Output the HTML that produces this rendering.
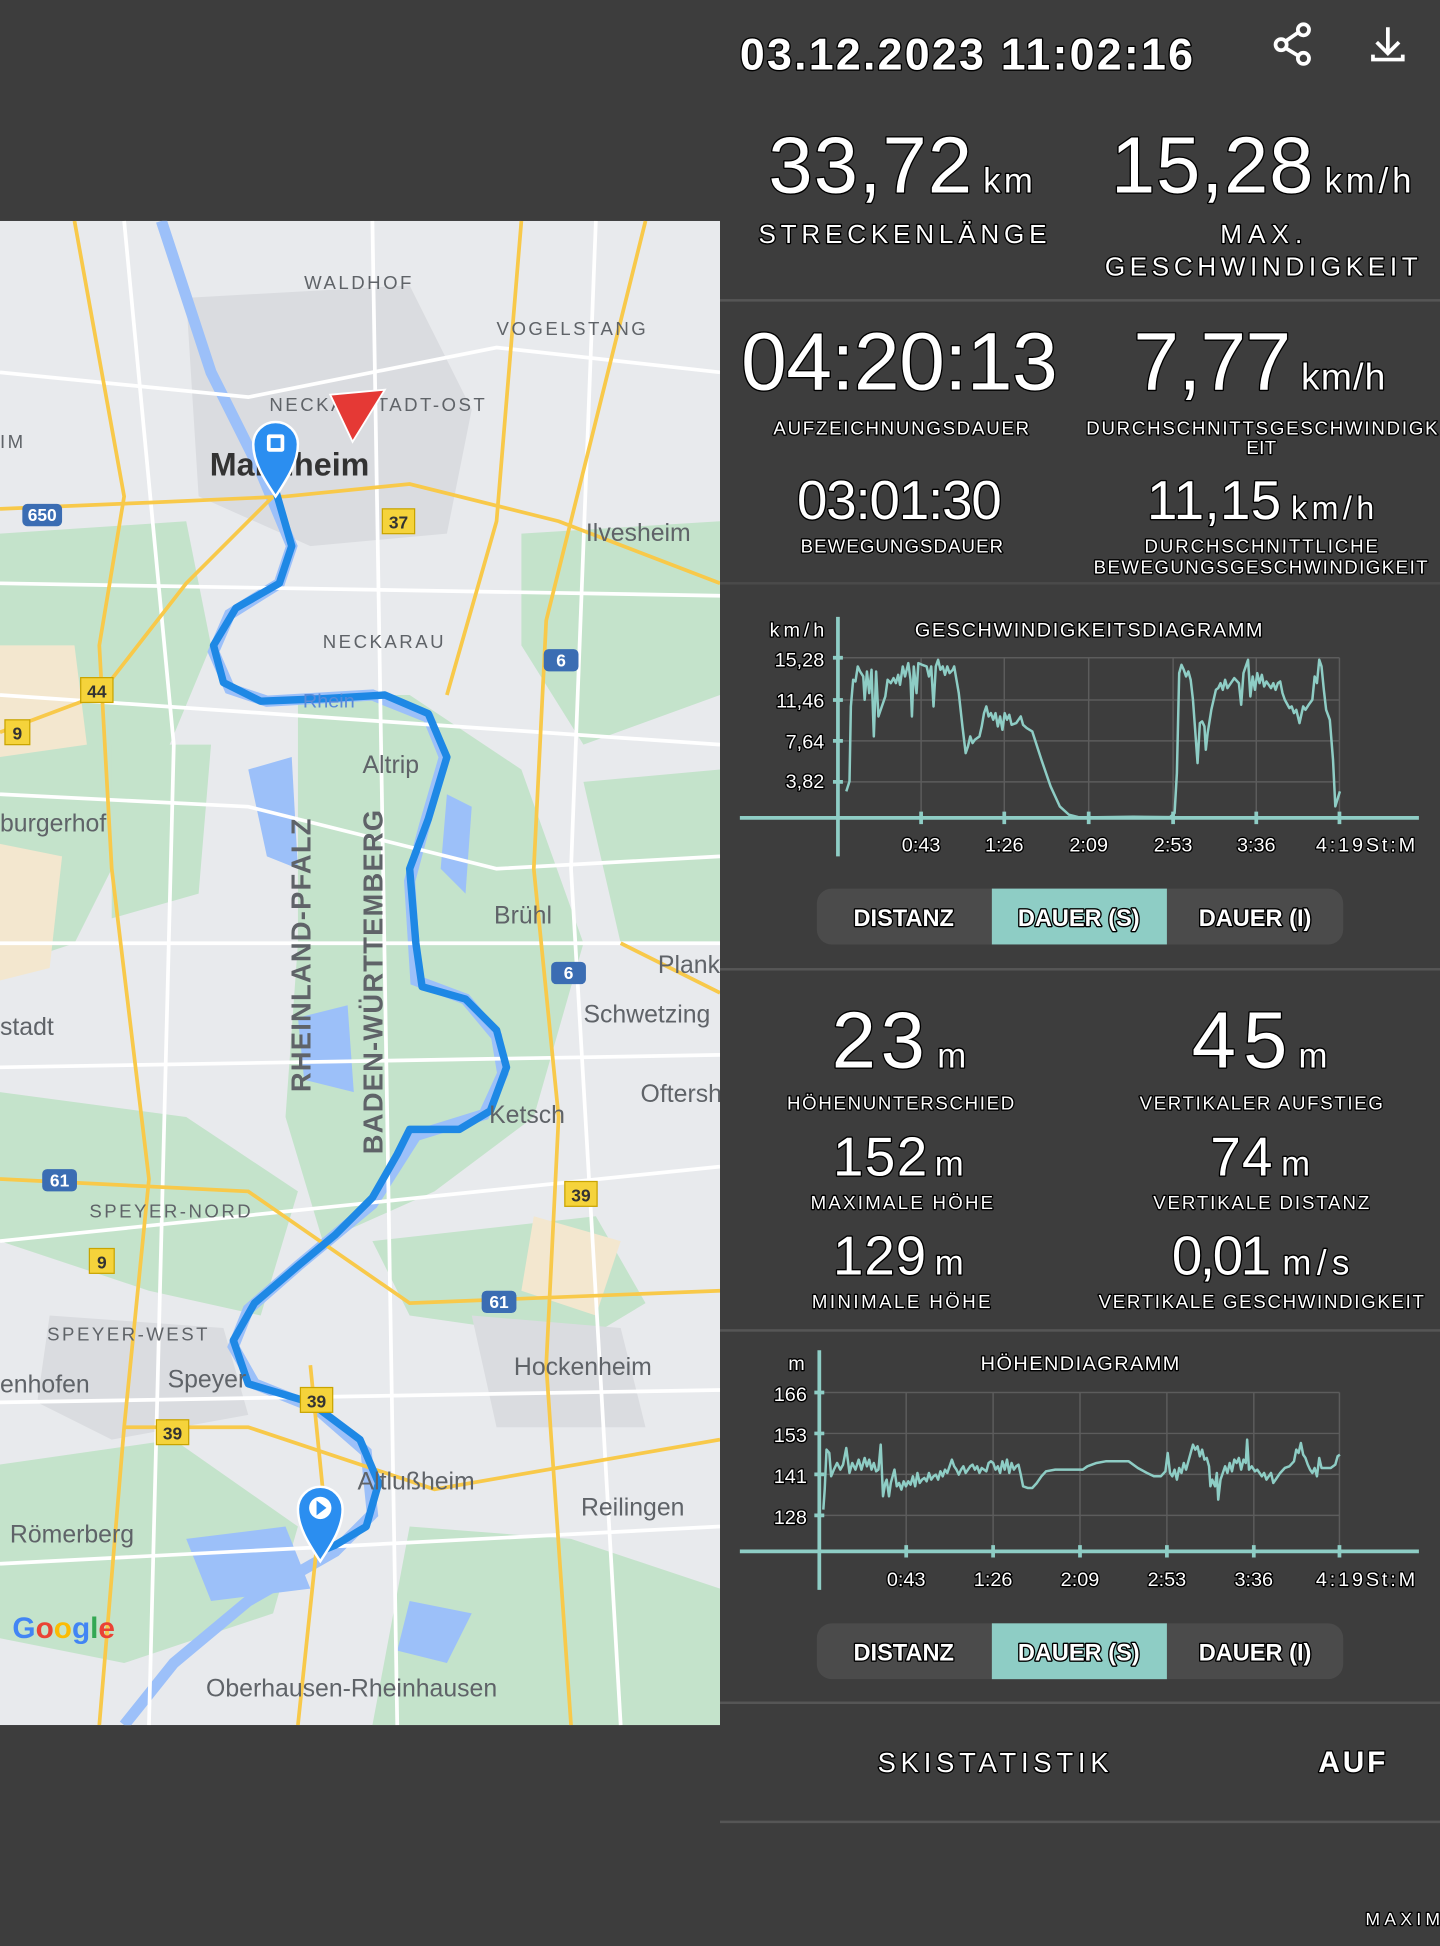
<!DOCTYPE html>
<html><head><meta charset="utf-8">
<style>
html,body{margin:0;padding:0;background:#3d3d3d;}
svg{display:block;}
.t{font-family:"Liberation Sans",sans-serif;fill:#fff;}
.o{stroke:#000;stroke-width:2.2;paint-order:stroke;stroke-linejoin:round;}
.m{font-family:"Liberation Sans",sans-serif;fill:#5f6368;}
</style></head><body>
<svg width="1440" height="1946" viewBox="0 0 1160 1568" preserveAspectRatio="none" xmlns="http://www.w3.org/2000/svg">
<rect width="1160" height="1568" fill="#3d3d3d"/>

<!-- MAP -->
<svg x="0" y="178" width="580" height="1212" viewBox="0 178 580 1212">
<rect x="0" y="178" width="580" height="1212" fill="#e8eaed"/>
<g fill="#c4e3cb">
<path d="M0 430 L150 420 L170 520 L120 640 L60 760 L0 780Z"/>
<path d="M240 560 L330 560 L420 620 L470 760 L430 900 L350 960 L260 1000 L230 900 L240 760Z"/>
<path d="M420 430 L580 420 L580 560 L470 600 L420 520Z"/>
<path d="M0 880 L150 900 L240 960 L210 1060 L120 1040 L0 1000Z"/>
<path d="M300 1000 L480 980 L520 1050 L470 1080 L330 1060Z"/>
<path d="M0 1180 L140 1160 L240 1230 L220 1300 L100 1340 L0 1320Z"/>
<path d="M330 1230 L460 1240 L580 1280 L580 1390 L300 1390Z"/>
<path d="M470 630 L580 620 L580 760 L500 760Z"/>
<path d="M90 600 L170 600 L160 720 L90 740Z"/>
</g>
<g fill="#f3e7cf">
<path d="M0 520 L60 520 L70 600 L0 610Z"/>
<path d="M0 680 L50 690 L40 780 L0 790Z"/>
<path d="M430 980 L500 1000 L480 1060 L420 1040Z"/>
</g>
<g fill="#dadce0">
<path d="M150 240 L330 230 L380 330 L360 430 L250 440 L160 400Z"/>
<path d="M40 1060 L180 1070 L200 1140 L90 1160 L30 1130Z"/>
<path d="M380 1060 L500 1070 L520 1150 L400 1150Z"/>
</g>
<g fill="#9cc0f9">
<path d="M200 620 L235 610 L240 700 L215 690Z"/>
<path d="M240 820 L280 810 L285 880 L245 870Z"/>
<path d="M150 1240 L230 1230 L250 1280 L170 1290Z"/>
<path d="M330 1290 L380 1300 L360 1340 L320 1330Z"/>
<path d="M360 640 L380 650 L375 720 L355 700Z"/>
</g>
<!-- river -->
<path d="M130 178 L170 300 L210 380 L235 440 L225 470 L185 495 L172 525 L185 555 L215 565 L300 560 L345 578 L358 610 L342 665 L330 710 L335 790 L375 805 L400 835 L405 865 L390 898 L335 915 L300 970 L240 1020 L200 1055 L188 1085 L205 1115 L255 1135 L295 1170 L300 1220 L270 1250 L200 1290 L140 1340 L100 1390" fill="none" stroke="#9cc0f9" stroke-width="9"/>
<!-- roads white -->
<g fill="none" stroke="#fff" stroke-width="3">
<path d="M0 300 L200 320 L400 280 L580 300"/><path d="M0 470 L580 480"/><path d="M0 640 L200 650 L400 700 L580 690"/>
<path d="M0 860 L580 850"/><path d="M0 1130 L580 1120"/><path d="M100 178 L140 600 L120 1390"/>
<path d="M480 178 L460 700 L500 1390"/><path d="M300 178 L320 1390"/><path d="M0 1000 L580 940"/>
<path d="M0 560 L580 600"/><path d="M0 760 L580 760"/><path d="M0 1260 L580 1230"/>
</g>
<!-- roads yellow -->
<g fill="none" stroke="#f8c94a" stroke-width="3">
<path d="M0 410 L120 405 L230 400 L330 390 L450 420 L580 470"/>
<path d="M60 178 L100 400 L80 520 L90 700 L120 950 L100 1150 L80 1390"/>
<path d="M520 178 L440 500 L430 700 L450 900 L440 1100 L460 1390"/>
<path d="M0 590 L80 560 L150 470 L220 400"/>
<path d="M0 950 L200 960 L330 1050 L580 1040"/>
<path d="M250 1100 L260 1200 L240 1390"/>
<path d="M420 178 L400 420 L360 560"/>
<path d="M500 760 L560 790 L580 800"/>
<path d="M100 1150 L200 1150 L350 1200 L580 1160"/>
</g>
<!-- route -->
<path d="M222 395 L235 440 L225 470 L190 490 L172 520 L180 550 L210 565 L260 563 L310 560 L345 575 L360 610 L345 660 L330 700 L335 760 L340 795 L375 805 L400 830 L408 860 L395 895 L370 910 L330 910 L320 930 L300 965 L270 995 L240 1020 L205 1050 L188 1080 L200 1115 L250 1130 L290 1160 L305 1195 L295 1230 L270 1245 L258 1250" fill="none" stroke="#1e88e5" stroke-width="6" stroke-linejoin="round"/>
<!-- shields -->
<g font-family="Liberation Sans" font-size="14" font-weight="bold" text-anchor="middle">
<rect x="308" y="410" width="26" height="20" fill="#f5d33b" stroke="#c9a400"/><text x="321" y="426" fill="#333">37</text>
<rect x="65" y="546" width="26" height="20" fill="#f5d33b" stroke="#c9a400"/><text x="78" y="562" fill="#333">44</text>
<rect x="4" y="580" width="20" height="20" fill="#f5d33b" stroke="#c9a400"/><text x="14" y="596" fill="#333">9</text>
<rect x="455" y="952" width="26" height="20" fill="#f5d33b" stroke="#c9a400"/><text x="468" y="968" fill="#333">39</text>
<rect x="72" y="1006" width="20" height="20" fill="#f5d33b" stroke="#c9a400"/><text x="82" y="1022" fill="#333">9</text>
<rect x="242" y="1118" width="26" height="20" fill="#f5d33b" stroke="#c9a400"/><text x="255" y="1134" fill="#333">39</text>
<rect x="126" y="1144" width="26" height="20" fill="#f5d33b" stroke="#c9a400"/><text x="139" y="1160" fill="#333">39</text>
<rect x="18" y="406" width="32" height="18" rx="4" fill="#3b6db3"/><text x="34" y="420" fill="#fff">650</text>
<rect x="438" y="523" width="28" height="18" rx="4" fill="#3b6db3"/><text x="452" y="537" fill="#fff">6</text>
<rect x="444" y="775" width="28" height="18" rx="4" fill="#3b6db3"/><text x="458" y="789" fill="#fff">6</text>
<rect x="34" y="942" width="28" height="18" rx="4" fill="#3b6db3"/><text x="48" y="956" fill="#fff">61</text>
<rect x="388" y="1040" width="28" height="18" rx="4" fill="#3b6db3"/><text x="402" y="1054" fill="#fff">61</text>
</g>
<!-- labels -->
<g class="m" font-size="20">
<text x="472" y="436">Ilvesheim</text><text x="292" y="623">Altrip</text><text x="398" y="744">Brühl</text>
<text x="530" y="784">Plank</text><text x="470" y="824">Schwetzing</text><text x="516" y="888">Oftersh</text>
<text x="394" y="905">Ketsch</text><text x="0" y="670">burgerhof</text><text x="0" y="834">stadt</text>
<text x="0" y="1122">enhofen</text><text x="135" y="1118">Speyer</text><text x="414" y="1108">Hockenheim</text>
<text x="288" y="1200">Altlußheim</text><text x="468" y="1221">Reilingen</text><text x="8" y="1243">Römerberg</text>
<text x="166" y="1367">Oberhausen-Rheinhausen</text>
</g>
<g class="m" font-size="15" letter-spacing="2">
<text x="245" y="233">WALDHOF</text><text x="400" y="270">VOGELSTANG</text><text x="217" y="331">NECKARSTADT-OST</text>
<text x="260" y="522">NECKARAU</text><text x="72" y="981">SPEYER-NORD</text><text x="38" y="1080">SPEYER-WEST</text>
<text x="0" y="361">IM</text>
</g>
<text x="244" y="570" class="m" font-size="16" fill="#5a8ad8" style="fill:#5a8ad8">Rhein</text>
<text x="169" y="383" font-family="Liberation Sans" font-size="26" font-weight="bold" fill="#333">Mannheim</text>
<text transform="translate(250,880) rotate(-90)" class="m" font-size="22" font-weight="bold" letter-spacing="1">RHEINLAND-PFALZ</text>
<text transform="translate(308,930) rotate(-90)" class="m" font-size="22" font-weight="bold" letter-spacing="1">BADEN-WÜRTTEMBERG</text>
<text x="10" y="1320" font-family="Liberation Sans" font-size="24" font-weight="bold"><tspan fill="#4285f4">G</tspan><tspan fill="#ea4335">o</tspan><tspan fill="#fbbc05">o</tspan><tspan fill="#4285f4">g</tspan><tspan fill="#34a853">l</tspan><tspan fill="#ea4335">e</tspan></text>
<!-- pins -->
<path d="M222 400 C212 385 204 372 204 358 A18 18 0 0 1 240 358 C240 372 232 385 222 400Z" fill="#2b8ef0" stroke="#fff" stroke-width="2"/>
<rect x="215" y="350" width="14" height="14" rx="2" fill="#fff"/><rect x="218" y="353" width="8" height="8" fill="#2b8ef0"/>
<path d="M258 1258 C248 1243 240 1230 240 1216 A18 18 0 0 1 276 1216 C276 1230 268 1243 258 1258Z" fill="#2b8ef0" stroke="#fff" stroke-width="2"/>
<circle cx="258" cy="1215" r="9" fill="#fff"/><path d="M255 1209 L263 1215 L255 1221Z" fill="#2b8ef0"/>
<path d="M266 318 L310 314 L284 356Z" fill="#e53935" stroke="#fff" stroke-width="1.5"/>
</svg>

<!-- RIGHT PANEL -->
<g class="t">
<text x="596" y="56" font-size="36" font-weight="bold" textLength="365" class="o">03.12.2023 11:02:16</text>
</g>
<!-- icons -->
<g stroke="#fff" stroke-width="3" fill="none">
<circle cx="1050" cy="24" r="4.5"/><circle cx="1032" cy="36" r="4.5"/><circle cx="1050" cy="47" r="4.5"/>
<path d="M1046 26 L1036 33 M1036 39 L1046 45"/>
<path d="M1118 22 L1118 42 M1109 34 L1118 43 L1127 34 M1106 44 L1106 48 L1130 48 L1130 44"/>
</g>
<g class="t o">
<text x="619" y="155" font-size="64" textLength="164">33,72</text>
<text x="792" y="155" font-size="28" textLength="40">km</text>
<text x="895" y="155" font-size="64" textLength="163">15,28</text>
<text x="1067" y="155" font-size="28" textLength="70">km/h</text>
<text x="611" y="196" font-size="21" textLength="232">STRECKENLÄNGE</text>
<text x="983" y="196" font-size="21" textLength="66">MAX.</text>
<text x="890" y="222" font-size="21" textLength="252">GESCHWINDIGKEIT</text>
</g>
<rect x="580" y="241" width="580" height="2" fill="#565656"/>
<g class="t o">
<text x="597" y="314" font-size="66" textLength="255">04:20:13</text>
<text x="913" y="314" font-size="66" textLength="127">7,77</text>
<text x="1048" y="314" font-size="30" textLength="68">km/h</text>
<text x="623" y="350" font-size="15" textLength="206">AUFZEICHNUNGSDAUER</text>
<text x="875" y="350" font-size="15" textLength="283">DURCHSCHNITTSGESCHWINDIGK</text>
<text x="1004" y="366" font-size="15" textLength="24">EIT</text>
<text x="642" y="418" font-size="44" textLength="165">03:01:30</text>
<text x="924" y="418" font-size="44" textLength="108">11,15</text>
<text x="1040" y="418" font-size="26" textLength="67">km/h</text>
<text x="645" y="445" font-size="15" textLength="163">BEWEGUNGSDAUER</text>
<text x="922" y="445" font-size="15" textLength="188">DURCHSCHNITTLICHE</text>
<text x="881" y="462" font-size="15" textLength="269">BEWEGUNGSGESCHWINDIGKEIT</text>
</g>
<rect x="580" y="469" width="580" height="2" fill="#4a4a4a"/>

<!-- SPEED CHART -->
<g stroke="#5c5c5c" stroke-width="1.2">
<path d="M675 530 H1079 M675 564 H1079 M675 597 H1079 M675 630 H1079"/>
<path d="M742 530 V659 M809 530 V659 M877 530 V659 M945 530 V659 M1012 530 V659 M1079 530 V659"/>
</g>
<g stroke="#8ecdc5" stroke-width="3">
<path d="M675 497 V690 M596 659 H1143"/>
<path d="M671 530 H679 M671 564 H679 M671 597 H679 M671 630 H679"/>
<path d="M742 654 V664 M809 654 V664 M877 654 V664 M945 654 V664 M1012 654 V664 M1079 654 V664"/>
</g>
<polyline transform="matrix(0.3699 0 0 0.2685 580 483.3)" vector-effect="non-scaling-stroke" fill="none" stroke="#8ecdc5" stroke-width="2.5" stroke-linejoin="round"
points="275,575 282,545 285,320 290,240 295,245 300,200 305,215 312,230 315,300 320,215 325,280 330,210 335,410 340,215 345,350 350,330 360,290 365,240 372,250 378,235 383,250 388,225 392,255 398,200 403,230 410,190 415,240 418,350 422,200 428,280 432,190 440,195 450,200 455,230 460,200 465,320 470,200 475,180 480,210 485,200 490,225 495,200 500,220 507,210 510,200 515,240 520,280 528,380 535,460 540,440 545,410 550,430 555,420 565,410 570,380 575,340 580,320 585,350 590,340 595,360 600,340 605,380 610,350 615,390 620,340 625,360 630,345 635,375 645,370 655,350 660,375 668,385 680,395 700,480 720,560 740,620 760,645 780,652 800,653 900,651 980,652 990,640 995,520 1000,220 1005,195 1010,210 1015,230 1020,215 1025,240 1030,300 1040,490 1045,370 1050,365 1055,380 1058,450 1062,400 1070,330 1080,270 1085,265 1090,250 1095,270 1100,240 1105,265 1110,255 1120,235 1130,250 1135,315 1140,220 1145,200 1150,180 1155,290 1160,230 1165,270 1170,220 1175,250 1180,225 1185,260 1190,245 1195,255 1200,265 1205,250 1210,270 1215,250 1220,245 1225,280 1230,300 1240,325 1245,320 1250,340 1255,330 1262,370 1270,320 1275,330 1282,315 1290,300 1295,230 1300,250 1305,180 1310,200 1315,270 1320,330 1328,360 1335,480 1340,620 1350,575"/>
<g class="t o" font-size="16">
<text x="620" y="513" textLength="44">km/h</text>
<text x="737" y="513" textLength="280">GESCHWINDIGKEITSDIAGRAMM</text>
<g text-anchor="end"><text x="664" y="537">15,28</text><text x="664" y="570">11,46</text><text x="664" y="603">7,64</text><text x="664" y="635">3,82</text></g>
<g text-anchor="middle"><text x="742" y="686">0:43</text><text x="809" y="686">1:26</text><text x="877" y="686">2:09</text><text x="945" y="686">2:53</text><text x="1012" y="686">3:36</text></g>
<text x="1060" y="686" textLength="80">4:19St:M</text>
</g>
<!-- buttons 1 -->
<rect x="658" y="716" width="424" height="45" rx="12" fill="#4b4b4b"/>
<rect x="799" y="716" width="141" height="45" fill="#8ecdc5"/>
<g class="t o" font-size="19" font-weight="bold" text-anchor="middle">
<text x="728" y="746">DISTANZ</text><text x="869" y="746">DAUER (S)</text><text x="1011" y="746">DAUER (I)</text>
</g>
<rect x="580" y="780" width="580" height="2" fill="#565656"/>

<!-- elevation stats -->
<g class="t o">
<text x="670" y="860" font-size="64" textLength="75">23</text><text x="755" y="860" font-size="28">m</text>
<text x="960" y="860" font-size="64" textLength="77">45</text><text x="1046" y="860" font-size="28">m</text>
<text x="634" y="894" font-size="15" textLength="183">HÖHENUNTERSCHIED</text>
<text x="918" y="894" font-size="15" textLength="196">VERTIKALER AUFSTIEG</text>
<text x="671" y="947" font-size="44" textLength="76">152</text><text x="753" y="947" font-size="28">m</text>
<text x="975" y="947" font-size="44" textLength="50">74</text><text x="1032" y="947" font-size="28">m</text>
<text x="653" y="974" font-size="15" textLength="147">MAXIMALE HÖHE</text>
<text x="929" y="974" font-size="15" textLength="174">VERTIKALE DISTANZ</text>
<text x="671" y="1027" font-size="44" textLength="75">129</text><text x="753" y="1027" font-size="28">m</text>
<text x="944" y="1027" font-size="44" textLength="80">0,01</text><text x="1033" y="1027" font-size="28" textLength="54">m/s</text>
<text x="654" y="1054" font-size="15" textLength="144">MINIMALE HÖHE</text>
<text x="885" y="1054" font-size="15" textLength="262">VERTIKALE GESCHWINDIGKEIT</text>
</g>
<rect x="580" y="1071" width="580" height="2" fill="#565656"/>

<!-- ELEVATION CHART -->
<g stroke="#5c5c5c" stroke-width="1.2">
<path d="M660 1122 H1079 M660 1155 H1079 M660 1188 H1079 M660 1221 H1079"/>
<path d="M730 1122 V1250 M800 1122 V1250 M870 1122 V1250 M940 1122 V1250 M1010 1122 V1250 M1079 1122 V1250"/>
</g>
<g stroke="#8ecdc5" stroke-width="3">
<path d="M660 1088 V1281 M596 1250 H1143"/>
<path d="M656 1122 H664 M656 1155 H664 M656 1188 H664 M656 1221 H664"/>
<path d="M730 1245 V1255 M800 1245 V1255 M870 1245 V1255 M940 1245 V1255 M1010 1245 V1255 M1079 1245 V1255"/>
</g>
<polyline transform="matrix(0.3699 0 0 0.2685 580 1071.4)" vector-effect="non-scaling-stroke" fill="none" stroke="#8ecdc5" stroke-width="2.5" stroke-linejoin="round"
points="225,540 228,480 232,360 238,370 242,440 248,420 255,400 262,420 268,405 275,355 282,430 288,400 295,420 302,390 308,420 315,385 320,410 325,390 330,420 335,400 340,425 345,420 350,345 355,500 360,460 363,450 368,500 372,460 380,420 385,470 390,460 395,480 400,455 405,470 410,455 415,465 420,440 425,470 430,430 435,460 440,450 445,445 450,455 455,430 460,450 465,440 470,435 475,450 480,425 485,440 490,420 495,430 500,410 505,390 510,410 515,420 520,435 525,420 530,410 535,430 540,420 545,410 550,405 555,420 560,410 565,430 570,415 575,420 580,425 585,400 590,395 595,400 600,420 605,410 610,430 615,395 620,420 625,390 630,430 635,400 640,420 645,410 650,405 655,435 660,470 670,475 680,475 690,460 700,440 710,425 730,420 790,420 800,410 820,400 840,395 890,395 910,415 930,430 945,440 960,440 970,425 975,370 980,430 985,440 990,420 995,450 1000,415 1005,430 1010,400 1015,420 1020,395 1025,370 1030,345 1035,360 1040,350 1045,380 1050,360 1055,390 1060,385 1065,410 1068,470 1072,450 1078,470 1082,430 1085,510 1090,450 1095,430 1100,410 1105,430 1110,400 1115,425 1120,390 1125,400 1130,385 1135,420 1140,390 1145,400 1148,330 1152,420 1158,410 1165,425 1170,420 1175,430 1180,440 1185,430 1190,450 1195,440 1200,430 1205,460 1210,450 1220,430 1230,415 1240,410 1250,395 1255,360 1260,370 1265,340 1270,375 1275,385 1280,405 1285,420 1290,430 1295,415 1300,440 1305,385 1310,415 1320,415 1330,415 1340,405 1345,380 1350,375"/>
<g class="t o" font-size="16">
<text x="635" y="1104">m</text>
<text x="790" y="1104" textLength="160">HÖHENDIAGRAMM</text>
<g text-anchor="end"><text x="650" y="1129">166</text><text x="650" y="1162">153</text><text x="650" y="1195">141</text><text x="650" y="1228">128</text></g>
<g text-anchor="middle"><text x="730" y="1278">0:43</text><text x="800" y="1278">1:26</text><text x="870" y="1278">2:09</text><text x="940" y="1278">2:53</text><text x="1010" y="1278">3:36</text></g>
<text x="1060" y="1278" textLength="80">4:19St:M</text>
</g>
<rect x="658" y="1308" width="424" height="45" rx="12" fill="#4b4b4b"/>
<rect x="799" y="1308" width="141" height="45" fill="#8ecdc5"/>
<g class="t o" font-size="19" font-weight="bold" text-anchor="middle">
<text x="728" y="1338">DISTANZ</text><text x="869" y="1338">DAUER (S)</text><text x="1011" y="1338">DAUER (I)</text>
</g>
<rect x="580" y="1371" width="580" height="2" fill="#565656"/>
<g class="t o">
<text x="707" y="1428" font-size="22" textLength="186">SKISTATISTIK</text>
<text x="1062" y="1428" font-size="24" font-weight="bold" textLength="54">AUF</text>
</g>
<rect x="580" y="1467" width="580" height="2" fill="#565656"/>
<text x="1100" y="1551" class="t o" font-size="14" textLength="60">MAXIM</text>
</svg>
</body></html>
